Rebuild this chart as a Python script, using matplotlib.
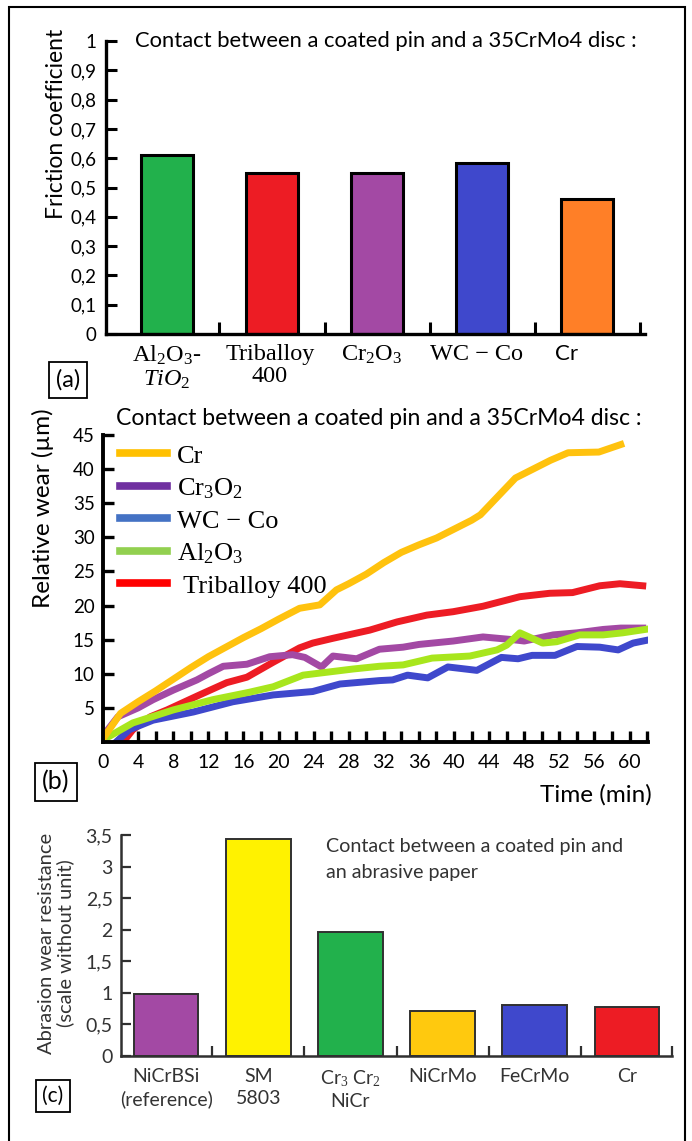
import matplotlib
matplotlib.use("Agg")
import matplotlib.pyplot as plt
from matplotlib.lines import Line2D
from matplotlib.patches import Rectangle

# (a) friction coefficient
fric_labels = ["Al$_2$O$_3$-\n$\\mathit{TiO}_2$", "Triballoy\n400", "Cr$_2$O$_3$", "WC \u2212 Co", "Cr"]
fric_values = [0.61, 0.55, 0.55, 0.585, 0.46]
fric_colors = ["#22B14C", "#ED1C24", "#A349A4", "#3F48CC", "#FF7F27"]

# (b) relative wear vs time
cr_t = [0, 2, 4, 6, 8, 10, 12, 14, 16, 18, 20, 22.4, 24.7, 26.6, 28, 30, 32, 34, 36, 38, 40, 42, 43,
        45, 47, 49, 51, 53, 56.5, 59]
cr_w = [0.5, 4.2, 5.9, 7.5, 9.2, 10.9, 12.5, 13.9, 15.3, 16.6, 18.0, 19.6, 20.1, 22.3, 23.2, 24.6, 26.3,
        27.8, 28.9, 29.9, 31.2, 32.5, 33.3, 36.0, 38.7, 40.0, 41.3, 42.4, 42.5, 43.6]
cro_t = [0, 1.7, 4, 5.7, 8, 10.7, 12, 13.7, 16.4, 19, 21.6, 23, 24.9, 26.2, 28.9, 31.5, 34.2, 36, 39.9,
         43.3, 46.7, 48, 51.3, 54, 57, 59, 61.5]
cro_w = [0.9, 3.7, 5.0, 6.2, 7.6, 9.1, 10.0, 11.1, 11.4, 12.5, 12.8, 12.4, 11.0, 12.6, 12.2, 13.6, 13.9,
         14.3, 14.8, 15.4, 15.0, 14.8, 15.7, 16.0, 16.5, 16.7, 16.7]
wc_t = [1.5, 3, 5.7, 8, 10.3, 14.8, 19.4, 23.9, 27, 31.5, 33, 34.7, 37, 39.3, 42.6, 45.4, 47.3, 48.9,
        51.5, 54, 56.6, 58.7, 60.4, 62.3]
wc_w = [0, 1.8, 3.2, 3.8, 4.4, 5.9, 6.9, 7.4, 8.5, 9.0, 9.1, 9.8, 9.4, 11.0, 10.5, 12.4, 12.2, 12.7,
        12.7, 14.0, 13.9, 13.5, 14.5, 15.0]
al_t = [0, 3.4, 8, 12.5, 16.7, 19.4, 22.8, 24.7, 28.5, 31.5, 34.2, 37.5, 41.8, 44.9, 46, 47.5, 50.1,
        51.7, 54.3, 57, 59.2, 62.3]
al_w = [0.3, 2.8, 4.7, 6.2, 7.3, 8.1, 9.8, 10.1, 10.7, 11.1, 11.3, 12.3, 12.6, 13.5, 14.2, 16.0, 14.5,
        14.7, 15.7, 15.7, 16.0, 16.6]
tri_t = [2.3, 3.4, 5.4, 7.3, 11, 14.1, 16.4, 19.4, 22.4, 23.9, 26.2, 30.4, 33.5, 36.9, 39.9, 43.3, 47.5,
         50.9, 53.5, 56.6, 58.9, 61.5]
tri_w = [0, 1.8, 3.7, 4.7, 6.9, 8.7, 9.5, 11.7, 13.8, 14.5, 15.2, 16.4, 17.6, 18.6, 19.1, 19.9, 21.3,
         21.8, 21.9, 22.9, 23.2, 22.9]
legend_labels = ["Cr", "Cr$_3$O$_2$", "WC \u2212 Co", "Al$_2$O$_3$", " Triballoy 400"]
legend_colors = ["#FFC000", "#7030A0", "#4472C4", "#92D050", "#FF0000"]

# (c) abrasion wear resistance
abr_labels = ["NiCrBSi\n(reference)", "SM\n5803", "Cr$_3$ Cr$_2$\nNiCr", "NiCrMo", "FeCrMo", "Cr"]
abr_values = [0.98, 3.43, 1.96, 0.72, 0.80, 0.77]
abr_colors = ["#A349A4", "#FFF200", "#22B14C", "#FFC90E", "#3F48CC", "#ED1C24"]

W, H = 692, 1141
SANS = ["Lato", "DejaVu Sans"]
SERIF = ["Liberation Serif", "DejaVu Serif"]
plt.rcParams["font.family"] = SANS
plt.rcParams["mathtext.fontset"] = "custom"
plt.rcParams["mathtext.rm"] = "Liberation Serif"
plt.rcParams["mathtext.it"] = "Liberation Serif:italic"

fig = plt.figure(figsize=(W / 100, H / 100), dpi=100)


def rect(l, t, r, b):
    return [l / W, 1 - b / H, (r - l) / W, (b - t) / H]


def panel_box(x, y, s, size=17):
    fig.text(x / W, 1 - y / H, s, fontsize=size, ha="center", va="center",
             bbox=dict(boxstyle="square,pad=0.3", fc="white", ec="black", lw=1.3))


fig.patches.append(Rectangle((9 / W, -0.01), 676 / W, 1 - 7 / H + 0.01, transform=fig.transFigure,
                             fill=False, ec="black", lw=1.5))

TITLE = "Contact between a coated pin and a 35CrMo4 disc :"

# ---- (a)
ax1 = fig.add_axes(rect(106, 41, 645, 334))
x1 = list(range(len(fric_values)))
ax1.bar(x1, fric_values, width=0.49, color=fric_colors, edgecolor="black", linewidth=2.2, zorder=2)
ax1.set_xlim(-0.58, 4.55)
ax1.set_ylim(0, 1)
ax1.set_yticks([i / 10 for i in range(11)])
ax1.set_yticklabels(["0"] + ["0,%d" % i for i in range(1, 10)] + ["1"])
ax1.set_xticks([0, 0.98, 1.95, 2.95, 3.8])
ax1.set_xticklabels(fric_labels, family=SERIF, fontsize=17.5, linespacing=1.1)
ax1.get_xticklabels()[4].set_family(SANS)
ax1.get_xticklabels()[4].set_fontsize(16)
ax1.set_xticks([0.5, 1.5, 2.5, 3.5, 4.5], minor=True)
ax1.tick_params(axis="x", which="major", length=0, pad=7)
ax1.tick_params(axis="x", which="minor", direction="in", length=9, width=2.2)
ax1.tick_params(axis="y", direction="in", length=8, width=2.2, labelsize=13.5, pad=7)
for s in ["top", "right"]:
    ax1.spines[s].set_visible(False)
for s in ["left", "bottom"]:
    ax1.spines[s].set_linewidth(2.4)
ax1.text(0.054, 1.0, TITLE, transform=ax1.transAxes, fontsize=15.8, va="center", ha="left")
fig.text(57 / W, 1 - 124 / H, "Friction coefficient", rotation=90, fontsize=16.5, ha="center", va="center")
panel_box(68, 380, "(a)")

# ---- (b)
ax2 = fig.add_axes(rect(103, 435, 648, 742))
ax2.plot(tri_t, tri_w, color="#ED1C24", lw=5, solid_joinstyle="round")
ax2.plot(cro_t, cro_w, color="#A349A4", lw=5, solid_joinstyle="round")
ax2.plot(wc_t, wc_w, color="#3F48CC", lw=5, solid_joinstyle="round")
ax2.plot(al_t, al_w, color="#A8E61D", lw=5, solid_joinstyle="round")
ax2.plot(cr_t, cr_w, color="#FFC20E", lw=5, solid_joinstyle="round")
ax2.set_xlim(0, 62.1)
ax2.set_ylim(0, 45)
ax2.set_xticks(range(0, 61, 4))
ax2.set_xticks(range(0, 63, 2), minor=True)
ax2.set_yticks(range(5, 46, 5))
ax2.tick_params(axis="x", which="both", direction="in", length=8, width=2.4, labelsize=14, pad=9)
ax2.tick_params(axis="y", direction="in", length=8, width=2.4, labelsize=13.5, pad=6)
for s in ["top", "right"]:
    ax2.spines[s].set_visible(False)
for s in ["left", "bottom"]:
    ax2.spines[s].set_linewidth(2.8)
handles = [Line2D([], [], color=c, lw=5.5) for c in legend_colors]
leg = ax2.legend(handles, legend_labels, loc="upper left", bbox_to_anchor=(0.032, 0.97), frameon=False,
                 prop={"family": SERIF, "size": 19}, handlelength=1.75, handletextpad=0.4,
                 labelspacing=0.32, borderaxespad=0, borderpad=0)
ax2.text(0.024, 1.055, TITLE, transform=ax2.transAxes, fontsize=16.6, va="center", ha="left")
fig.text(652 / W, 1 - 795 / H, "Time (min)", fontsize=17.5, ha="right", va="center")
fig.text(43 / W, 1 - 508 / H, "Relative wear (\u00b5m)", rotation=90, fontsize=17.5, ha="center", va="center")
panel_box(56, 782, "(b)", 18)

# ---- (c)
ax3 = fig.add_axes(rect(121, 835, 672, 1056))
x3 = list(range(len(abr_values)))
ax3.bar(x3, abr_values, width=0.7, color=abr_colors, edgecolor="#303030", linewidth=1.4, zorder=2)
ax3.set_xlim(-0.49, 5.49)
ax3.set_ylim(0, 3.5)
ax3.set_yticks([0, 0.5, 1, 1.5, 2, 2.5, 3, 3.5])
ax3.set_yticklabels(["0", "0,5", "1", "1,5", "2", "2,5", "3", "3,5"])
ax3.set_xticks(x3)
ax3.set_xticklabels(abr_labels, fontsize=14, color="#333333", linespacing=1.3)
ax3.set_xticks([0.5, 1.5, 2.5, 3.5, 4.5, 5.49], minor=True)
ax3.tick_params(axis="x", which="major", length=0, pad=9)
ax3.tick_params(axis="x", which="minor", direction="in", length=7, width=1.6, color="#303030")
ax3.tick_params(axis="y", direction="in", length=7, width=1.6, color="#303030", labelsize=14,
                labelcolor="#333333", pad=6)
for s in ["top", "right"]:
    ax3.spines[s].set_visible(False)
for s in ["left", "bottom"]:
    ax3.spines[s].set_linewidth(1.8)
    ax3.spines[s].set_color("#303030")
ax3.text(0.372, 0.985, "Contact between a coated pin and\nan abrasive paper", transform=ax3.transAxes,
         fontsize=14.2, va="top", ha="left", color="#333333", linespacing=1.65)
fig.text(56 / W, 1 - 943 / H, "Abrasion wear resistance\n(scale without unit)", rotation=90, fontsize=14.5,
         ha="center", va="center", color="#333333", linespacing=1.1)
panel_box(53, 1096, "(c)", 15)

fig.savefig("out.png", dpi=100)
